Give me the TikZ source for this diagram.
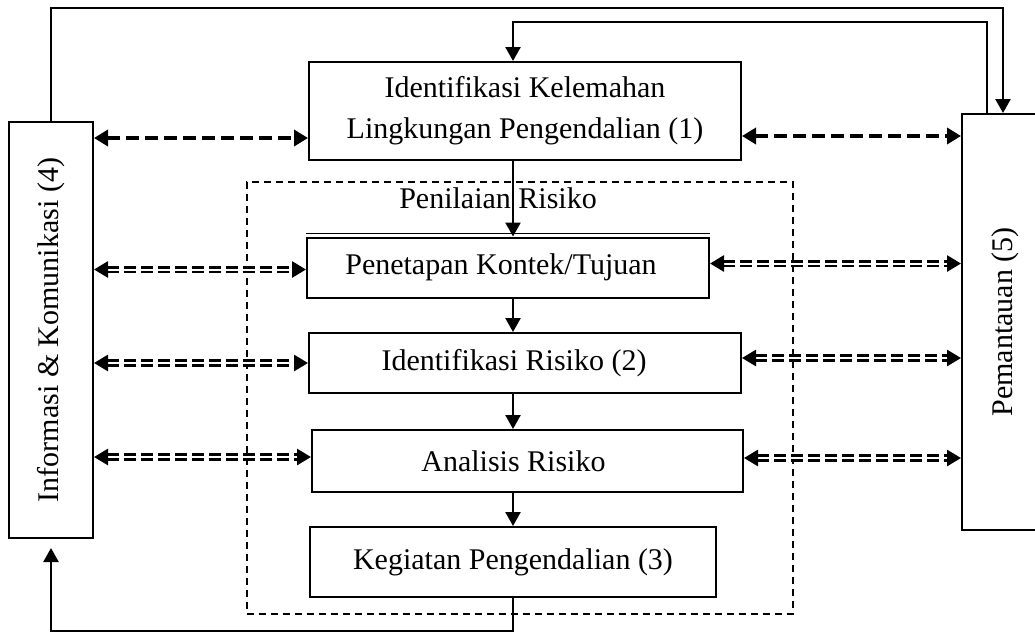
\documentclass[tikz,border=0pt]{standalone}
\usepackage{fontspec}
\setmainfont{Liberation Serif}
\usetikzlibrary{arrows.meta}

\begin{document}
\begin{tikzpicture}[x=1pt,y=-1pt,
	kotak/.style={draw,line width=2pt,inner sep=0pt,align=center,font=\fontsize{30}{41}\selectfont},
	panah/.style={line width=2.5pt,-{Triangle[length=14pt,width=15pt]}},
	putus/.style={line width=4.5pt,dash pattern=on 13pt off 6pt,{Triangle[length=14pt,width=16pt]}-{Triangle[length=14pt,width=16pt]}},
	ganda/.style={double,double distance=2pt,line width=2.8pt,dash pattern=on 12pt off 5pt,{Triangle[length=14pt,width=16pt]}-{Triangle[length=14pt,width=16pt]}}]
	\clip (0,0) rectangle (1035,632);
	% kelompok penilaian risiko
	\node[draw,line width=1.5pt,dash pattern=on 7pt off 5pt,minimum width=546pt,minimum height=432pt] (nilai) at (520,398) {};
	\node[font=\fontsize{30}{34}\selectfont] (judul) at (498,198) {Penilaian Risiko};
	% kotak utama
	\node[kotak,minimum width=84pt,minimum height=416pt] (info) at (51,330) {\rotatebox{90}{Informasi \& Komunikasi (4)}};
	\node[kotak,minimum width=86pt,minimum height=416pt] (pantau) at (1005,322) {\rotatebox{90}{Pemantauan (5)}};
	\node[kotak,minimum width=432pt,minimum height=98pt] (lemah) at (525,111) {Identifikasi Kelemahan\\Lingkungan Pengendalian (1)};
	\node[kotak,minimum width=402pt,minimum height=60pt] (tujuan) at (508,267.5) {\hspace*{-14pt}Penetapan Kontek/Tujuan};
	\draw[line width=1pt] ([yshift=3pt]tujuan.north west) -- ([yshift=3pt]tujuan.north east);
	\node[kotak,minimum width=432pt,minimum height=60pt] (identrisk) at (525,363) {\hspace*{-22pt}Identifikasi Risiko (2)};
	\node[kotak,minimum width=431pt,minimum height=62pt] (analisis) at (527.5,461) {\hspace*{-28pt}Analisis Risiko};
	\node[kotak,minimum width=406pt,minimum height=70pt] (kegiatan) at (513,562) {Kegiatan Pengendalian (3)};
	% jalur umpan balik
	\coordinate (atas) at (0,8);
	\coordinate (jalur) at (513,22);
	\coordinate (bawah) at (0,631);
	\draw[panah] (info.north) -- (info.north |- atas) -| ([xshift=-2pt]pantau.north);
	\draw[panah] ([xshift=-18pt]pantau.north) |- (jalur) -- (jalur |- lemah.north);
	\draw[panah] (jalur |- lemah.south) -- (jalur |- tujuan.north);
	\draw[panah] (jalur |- tujuan.south) -- (jalur |- identrisk.north);
	\draw[panah] (jalur |- identrisk.south) -- (jalur |- analisis.north);
	\draw[panah] (jalur |- analisis.south) -- (jalur |- kegiatan.north);
	\draw[panah,shorten >=9pt] (kegiatan.south) |- (bawah -| info.south) -- (info.south);
	% komunikasi dua arah
	\draw[putus] ([yshift=-27pt]lemah.west -| info.east) -- ([yshift=-27pt]lemah.west);
	\draw[putus] ([yshift=-25pt]lemah.east) -- ([yshift=-25pt]lemah.east -| pantau.west);
	\draw[ganda] ([yshift=-2pt]tujuan.west -| info.east) -- ([yshift=-2pt]tujuan.west);
	\draw[ganda] ([yshift=4pt]tujuan.east) -- ([yshift=4pt]tujuan.east -| pantau.west);
	\draw[ganda] (identrisk.west -| info.east) -- (identrisk.west);
	\draw[ganda] ([yshift=5pt]identrisk.east) -- ([yshift=5pt]identrisk.east -| pantau.west);
	\draw[ganda] ([yshift=4pt]analisis.west -| info.east) -- ([yshift=4pt]analisis.west);
	\draw[ganda] ([yshift=3pt]analisis.east) -- ([yshift=3pt]analisis.east -| pantau.west);
\end{tikzpicture}
\end{document}
